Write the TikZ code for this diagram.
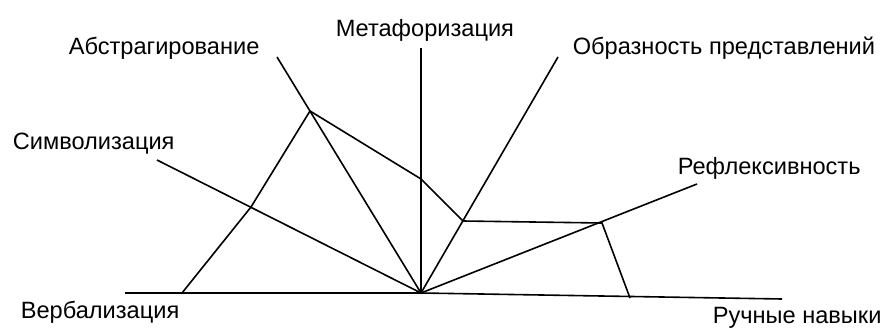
\documentclass[tikz,border=0pt]{standalone}
\usepackage{fontspec}
\setmainfont{Liberation Sans}

\begin{document}
\begin{tikzpicture}[x=1pt, y=-1pt, line width=1.6pt,
  lbl/.style={anchor=base west, inner sep=0pt, font=\fontsize{23.6}{26}\selectfont}]
  \useasboundingbox (0,0) rectangle (883,331);

  % центр и концы осей
  \coordinate (O) at (421,293);
  \coordinate (Lverb) at (125,293);
  \coordinate (Lruch) at (782,299);
  \coordinate (Lsimv) at (157,160);
  \coordinate (Labs) at (277,57);
  \coordinate (Lmet) at (421,48);
  \coordinate (Lobr) at (558,57);
  \coordinate (Lref) at (697,184);

  \draw (Lverb)--(O)--(Lruch);
  \draw (Lsimv)--(O);
  \draw (Labs)--(O);
  \draw (Lmet)--(O);
  \draw (Lobr)--(O);
  \draw (Lref)--(O);

  % профиль
  \coordinate (Pverb) at (182,293);
  \coordinate (Psimv) at (251,207);
  \coordinate (Pabs) at (310,111);
  \coordinate (Pmet) at (421,179);
  \coordinate (Pobr) at (463,221);
  \coordinate (Pref) at (602,223);
  \coordinate (Pruch) at (630,298);
  \draw (Pverb)--(Psimv)--(Pabs)--(Pmet)--(Pobr)--(Pref)--(Pruch);

  \node[lbl] (tmet) at (335,37) {Метафоризация};
  \node[lbl] (tabs) at (68,55) {Абстрагирование};
  \node[lbl] (tobr) at (572,55) {Образность представлений};
  \node[lbl] (tsimv) at (12,150) {Символизация};
  \node[lbl] (tref) at (677,175) {Рефлексивность};
  \node[lbl] (tverb) at (20,318) {Вербализация};
  \node[lbl] (truch) at (712,323) {Ручные навыки};
\end{tikzpicture}
\end{document}
